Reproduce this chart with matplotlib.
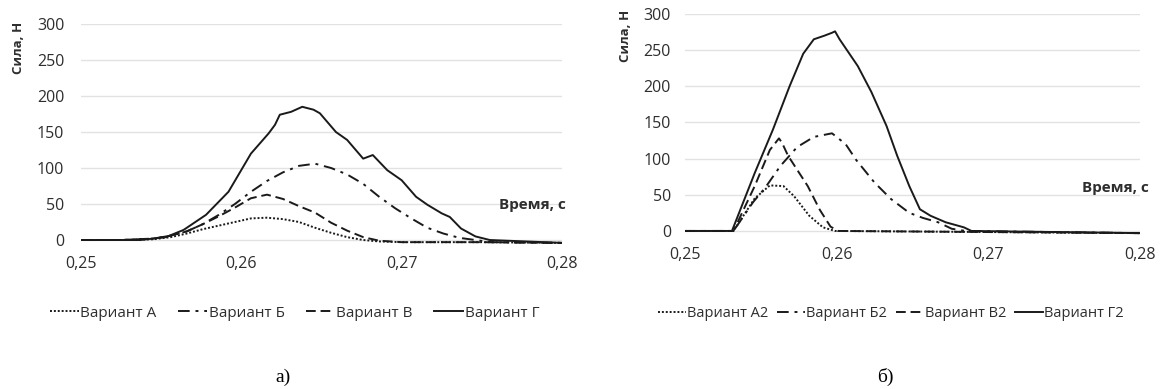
import matplotlib
matplotlib.use("Agg")
import matplotlib.pyplot as plt

plt.rcParams["font.family"] = ["Open Sans", "DejaVu Sans"]

# ---- chart а) ----
t_a = [0.25, 0.2525, 0.2545, 0.2556, 0.2566, 0.2576, 0.2586, 0.2596, 0.2606, 0.2616,
       0.2626, 0.2636, 0.2646, 0.2656, 0.2666, 0.2676, 0.2686, 0.27, 0.275, 0.28]
var_a = [0, 0, 1, 4, 9, 15, 20, 25, 30, 31, 29, 25, 17, 10, 4, 0, -2, -3, -3, -4]
var_v = [0, 0, 2, 6, 12, 22, 33, 45, 58, 63, 57, 47, 38, 24, 13, 4, -1, -3, -3, -4]

t_b = [0.25, 0.2525, 0.2545, 0.2556, 0.2566, 0.2576, 0.2586, 0.2596, 0.2606, 0.2616,
       0.2626, 0.2636, 0.2646, 0.2656, 0.2666, 0.2676, 0.2686, 0.2696, 0.2706, 0.2716,
       0.2726, 0.2736, 0.2746, 0.2756, 0.28]
var_b = [0, 0, 2, 6, 12, 22, 35, 50, 67, 82, 94, 103, 106, 100, 91, 78, 60, 44, 30, 17,
         9, 3, 0, -3, -4]

t_g = [0.25, 0.2537, 0.2553, 0.2564, 0.2578, 0.2592, 0.2606, 0.2617, 0.2621, 0.2624,
       0.2631, 0.2638, 0.2645, 0.2649, 0.2659, 0.2666, 0.2676, 0.2682, 0.2691, 0.27,
       0.2709, 0.2716, 0.2725, 0.273, 0.2737, 0.2746, 0.2755, 0.28]
var_g = [0, 0, 4, 14, 35, 67, 120, 148, 160, 174, 178, 185, 181, 176, 150, 139, 113, 118,
         97, 83, 60, 49, 37, 32, 16, 5, 0, -4]

# ---- chart б) ----
t_a2 = [0.25, 0.2532, 0.2546, 0.2556, 0.2565, 0.2572, 0.2582, 0.2591, 0.2599, 0.28]
var_a2 = [0, 0, 45, 63, 62, 48, 21, 5, 0, -3]

t_b2 = [0.25, 0.2532, 0.2545, 0.2553, 0.2563, 0.2574, 0.2585, 0.2597, 0.2606, 0.2613,
        0.2625, 0.2636, 0.2648, 0.2657, 0.2667, 0.2676, 0.2685, 0.28]
var_b2 = [0, 0, 40, 60, 90, 116, 130, 135, 120, 98, 67, 44, 25, 18, 12, 3, 0, -3]

t_v2 = [0.25, 0.2532, 0.2546, 0.2556, 0.2562, 0.2564, 0.2568, 0.2581, 0.2589, 0.2596,
        0.2601, 0.28]
var_v2 = [0, 0, 62, 112, 128, 122, 104, 62, 29, 6, 0, -3]

t_g2 = [0.25, 0.2531, 0.2546, 0.2558, 0.2569, 0.2578, 0.2585, 0.2592, 0.2597, 0.2599,
        0.2602, 0.2614, 0.2623, 0.2633, 0.264, 0.2648, 0.2655, 0.2662, 0.2672, 0.2684,
        0.2689, 0.28]
var_g2 = [0, 0, 80, 140, 200, 245, 265, 270, 274, 276, 265, 228, 192, 145, 104, 62, 30,
          21, 12, 5, 0, -3]

x_ticks = [0.25, 0.26, 0.27, 0.28]
y_ticks = [0, 50, 100, 150, 200, 250, 300]

ink = "#1a1a1a"
txt = "#2e2e2e"
styles = {
    "dot": (0, (1, 1)),
    "dashdot": (0, (6, 3, 1.5, 3)),
    "dash": (0, (5, 2.5)),
    "solid": "-",
}

fig = plt.figure(figsize=(11.6, 3.89), dpi=100)

ax1 = fig.add_axes([0.0698, 0.3645, 0.4147, 0.5738])
ax2 = fig.add_axes([0.5905, 0.3877, 0.3920, 0.5764])

panels = [
    (ax1, [(t_a, var_a, "Вариант А", "dot"), (t_b, var_b, "Вариант Б", "dashdot"),
           (t_a, var_v, "Вариант В", "dash"), (t_g, var_g, "Вариант Г", "solid")],
     14, 0.254, 11, 1.4),
    (ax2, [(t_a2, var_a2, "Вариант А2", "dot"), (t_b2, var_b2, "Вариант Б2", "dashdot"),
           (t_v2, var_v2, "Вариант В2", "dash"), (t_g2, var_g2, "Вариант Г2", "solid")],
     12, 0.768, 10.5, 0.6),
]

for ax, series, ypad, legx, legfs, colsp in panels:
    for t, v, name, st in series:
        ax.plot(t, v, color=ink, lw=1.4, linestyle=styles[st], label=name)
    ax.set_xlim(0.25, 0.28)
    ax.set_ylim(-10, 300)
    ax.set_xticks(x_ticks)
    ax.set_xticklabels([f"{x:.2f}".replace(".", ",") for x in x_ticks])
    ax.set_yticks(y_ticks)
    ax.grid(axis="y", color="#e2e2e2", lw=1)
    ax.set_axisbelow(True)
    for s in ax.spines.values():
        s.set_visible(False)
    ax.tick_params(axis="x", length=0, pad=6, labelsize=11.5, labelcolor=txt)
    ax.tick_params(axis="y", length=0, pad=ypad - 2, labelsize=11.5, labelcolor=txt)
    fig.legend(handles=ax.get_lines(), loc="center", bbox_to_anchor=(legx, 0.195),
               ncol=4, frameon=False, fontsize=legfs, handlelength=1.9,
               handletextpad=0.1, columnspacing=colsp, labelcolor=txt)

# axis titles
fig.text(0.016, 0.945, "Сила, Н", rotation=90, ha="center", va="top",
         fontsize=9.5, fontweight="bold", color=txt)
fig.text(0.539, 0.975, "Сила, Н", rotation=90, ha="center", va="top",
         fontsize=9.5, fontweight="bold", color=txt)
ax1.text(1.008, 0.19, "Время, с", transform=ax1.transAxes, ha="right", va="center",
         fontsize=11, fontweight="bold", color=txt, clip_on=False)
ax2.text(1.02, 0.225, "Время, с", transform=ax2.transAxes, ha="right", va="center",
         fontsize=11, fontweight="bold", color=txt, clip_on=False)

# panel captions
fig.text(0.244, 0.031, "а)", ha="center", va="center", fontsize=14,
         family="Liberation Serif", color="black")
fig.text(0.763, 0.031, "б)", ha="center", va="center", fontsize=14,
         family="Liberation Serif", color="black")

fig.savefig("out.png", dpi=100, facecolor="white")
